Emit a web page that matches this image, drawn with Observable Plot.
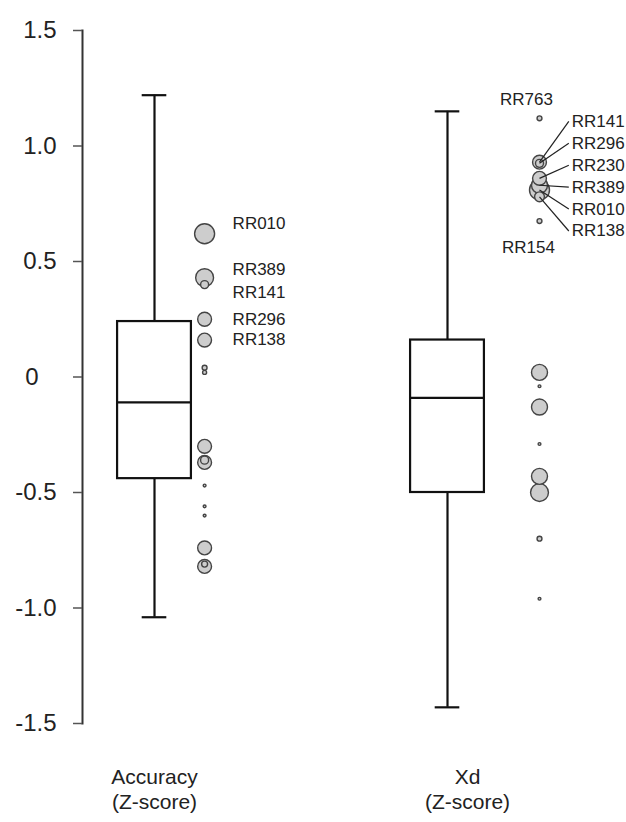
<!DOCTYPE html>
<html>
<head>
<meta charset="utf-8">
<script src="https://cdn.jsdelivr.net/npm/d3@7"></script>
<script src="https://cdn.jsdelivr.net/npm/@observablehq/plot@0.6"></script>
<style>
  html, body { margin: 0; padding: 0; background: #fff; }
  #chart svg { display: block; }
</style>
</head>
<body>
<div id="chart"></div>
<script>
// ---------- data ----------
const groups = ["Accuracy", "Xd"];
const groupLabels = ["Accuracy\n(Z-score)", "Xd\n(Z-score)"];
const whiskerLow = [-1.04, -1.43];
const q1 = [-0.44, -0.50];
const median = [-0.11, -0.09];
const q3 = [0.24, 0.16];
const whiskerHigh = [1.22, 1.15];

const yTicks = [1.5, 1.0, 0.5, 0, -0.5, -1.0, -1.5];
const yTickLabels = ["1.5", "1.0", "0.5", "0", "-0.5", "-1.0", "-1.5"];

// individual cases (value, weight, label)
const accValues  = [0.62, 0.43, 0.40, 0.25, 0.16, 0.04, 0.02, -0.30, -0.37, -0.36, -0.47, -0.56, -0.60, -0.74, -0.82, -0.81];
const accWeights = [25, 20, 4, 12, 12, 1.5, 1, 12, 12, 4, 0.5, 0.5, 0.5, 12, 12, 2.25];
const accLabels  = ["RR010", "RR389", "RR141", "RR296", "RR138", "", "", "", "", "", "", "", "", "", "", ""];

const xdValues  = [1.12, 0.93, 0.925, 0.86, 0.83, 0.81, 0.78, 0.675, 0.02, -0.04, -0.13, -0.29, -0.43, -0.50, -0.70, -0.96];
const xdWeights = [1.5, 12, 4, 12, 16, 25, 6, 1.5, 16, 0.5, 16, 0.5, 16, 20, 1.5, 0.5];
const xdLabels  = ["RR763", "RR141", "RR296", "RR230", "RR389", "RR010", "RR138", "RR154", "", "", "", "", "", "", "", ""];

// ---------- layout ----------
const W = 626, H = 822;
const boxHalf = 0.126;     // x units
const capHalf = 0.042;
const dotOffset = [0.171, 0.314];
const font = "Liberation Sans, Arial, Helvetica, sans-serif";
const labelSize = 17;

const boxes = groups.map((g, i) => ({
  g, x: i + 1, lo: whiskerLow[i], q1: q1[i], med: median[i], q3: q3[i], hi: whiskerHigh[i], label: groupLabels[i]
}));

const points = [
  ...accValues.map((v, i) => ({x: 1 + dotOffset[0], v, w: accWeights[i], label: accLabels[i], grp: 0})),
  ...xdValues.map((v, i) => ({x: 2 + dotOffset[1], v, w: xdWeights[i], label: xdLabels[i], grp: 1}))
];

// left column labels: vertical nudges in px
const accLabelDy = {RR010: -10, RR389: -8, RR141: 8, RR296: 0, RR138: 0};
const accLabelMarks = points.filter(p => p.grp === 0 && p.label).map(p =>
  Plot.text([p], {x: "x", y: "v", text: "label", dx: 28, dy: accLabelDy[p.label],
                  textAnchor: "start", fontSize: labelSize, fill: "#222"}));

// right column fan labels (label y in data units)
const fanLabelY = {RR141: 1.107, RR296: 1.012, RR230: 0.917, RR389: 0.822, RR010: 0.727, RR138: 0.632};
const fanX = 2 + dotOffset[1] + 0.10;
const fanPts = points.filter(p => p.grp === 1 && fanLabelY[p.label] !== undefined)
  .map(p => ({...p, ly: fanLabelY[p.label]}));
const xdTop = points.filter(p => p.grp === 1 && p.label === "RR763");
const xdBottom = points.filter(p => p.grp === 1 && p.label === "RR154");

const posTicks = yTicks.filter(t => t > 0);
const negTicks = yTicks.filter(t => t < 0);
const zeroTick = yTicks.filter(t => t === 0);
const labelMap = new Map(yTicks.map((t, i) => [t, yTickLabels[i]]));

const chart = Plot.plot({
  width: W,
  height: H,
  marginLeft: 82,
  marginRight: 0,
  marginTop: 30,
  marginBottom: 99,
  style: {fontFamily: font, background: "#fff", color: "#222"},
  x: {type: "linear", domain: [1, 2], range: [154, 447], axis: null},
  y: {domain: [-1.5, 1.5], axis: null},
  r: {type: "sqrt", domain: [0, 25], range: [0, 10]},
  marks: [
    Plot.frame({anchor: "left", stroke: "#333", strokeWidth: 2}),
    Plot.axisY({ticks: yTicks, tickFormat: () => "", tickSize: 9, stroke: "#555", strokeWidth: 1.5}),
    Plot.text(posTicks.concat(negTicks), {y: d => d, text: d => labelMap.get(d), frameAnchor: "left",
              dx: -26, textAnchor: "end", fontSize: 24, fill: "#222"}),
    Plot.text(zeroTick, {y: d => d, text: d => labelMap.get(d), frameAnchor: "left",
              dx: -44, textAnchor: "end", fontSize: 24, fill: "#222"}),
    // whiskers
    Plot.ruleX(boxes, {x: "x", y1: "q3", y2: "hi", stroke: "#111", strokeWidth: 2.2}),
    Plot.ruleX(boxes, {x: "x", y1: "lo", y2: "q1", stroke: "#111", strokeWidth: 2.2}),
    Plot.ruleY(boxes, {y: "hi", x1: d => d.x - capHalf, x2: d => d.x + capHalf, stroke: "#111", strokeWidth: 2.2}),
    Plot.ruleY(boxes, {y: "lo", x1: d => d.x - capHalf, x2: d => d.x + capHalf, stroke: "#111", strokeWidth: 2.2}),
    // boxes
    Plot.rect(boxes, {x1: d => d.x - boxHalf, x2: d => d.x + boxHalf, y1: "q1", y2: "q3",
                      fill: "#fff", stroke: "#111", strokeWidth: 2.2}),
    Plot.ruleY(boxes, {y: "med", x1: d => d.x - boxHalf, x2: d => d.x + boxHalf, stroke: "#111", strokeWidth: 2.2}),
    // points
    Plot.dot(points, {x: "x", y: "v", r: "w", fill: "#cdcdcd", stroke: "#444", strokeWidth: 1.4}),
    // fan leader lines
    Plot.link(fanPts, {x1: "x", y1: "v", x2: fanX, y2: "ly", stroke: "#222", strokeWidth: 1.2}),
    Plot.text(fanPts, {x: fanX, y: "ly", text: "label", dx: 3, textAnchor: "start", fontSize: labelSize, fill: "#222"}),
    // left labels
    ...accLabelMarks,
    Plot.text(xdTop, {x: "x", y: "v", text: "label", dx: -13, dy: -19, fontSize: labelSize, fill: "#222"}),
    Plot.text(xdBottom, {x: "x", y: "v", text: "label", dx: -11, dy: 26, fontSize: labelSize, fill: "#222"}),
    // category labels
    Plot.text(boxes.slice(0, 1), {x: "x", frameAnchor: "bottom", text: "label", dy: 65,
                      lineAnchor: "middle", lineHeight: 1.2, fontSize: 21, fill: "#222"}),
    Plot.text(boxes.slice(1), {x: "x", frameAnchor: "bottom", text: "label", dy: 65, dx: 20,
                      lineAnchor: "middle", lineHeight: 1.2, fontSize: 21, fill: "#222"})
  ]
});

document.getElementById("chart").appendChild(chart);
</script>
</body>
</html>
